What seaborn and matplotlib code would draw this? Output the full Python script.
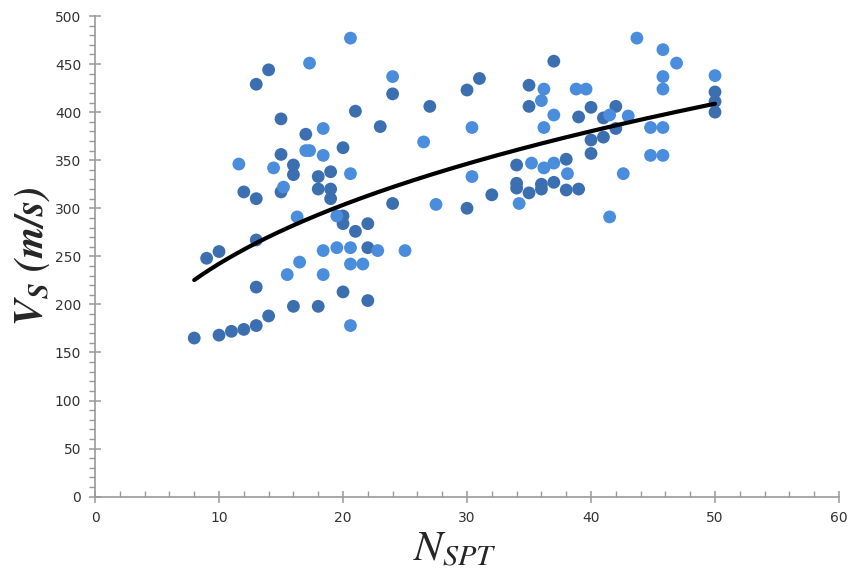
import numpy as np
import pandas as pd
import seaborn as sns
import matplotlib.pyplot as plt
from matplotlib.ticker import MultipleLocator

# SPT blow count vs shear wave velocity (two marker shades as in the source)
n_dark = [8, 9, 10, 10, 11, 12, 12, 13, 13, 13, 13, 13, 14, 14, 15, 15, 15,
          16, 16, 16, 17, 18, 18, 18, 19, 19, 19, 20, 20, 20, 20, 21, 21, 22,
          22, 22, 23, 24, 24, 27, 30, 30, 31, 32, 34, 34, 34, 35, 35, 35, 36,
          36, 37, 37, 38, 38, 39, 39, 40, 40, 40, 41, 41, 42, 42, 50, 50, 50]
vs_dark = [165, 248, 255, 168, 172, 174, 317, 178, 218, 267, 310, 429, 188,
           444, 393, 356, 317, 345, 335, 198, 377, 333, 320, 198, 338, 320,
           310, 363, 292, 284, 213, 401, 276, 284, 259, 204, 385, 419, 305,
           406, 423, 300, 435, 314, 345, 326, 321, 428, 406, 316, 325, 320,
           453, 327, 351, 319, 395, 320, 405, 371, 357, 394, 374, 406, 383,
           421, 411, 400]

n_light = [11.6, 14.4, 15.2, 15.5, 16.3, 16.5, 17.0, 17.3, 17.3, 18.4, 18.4,
           18.4, 18.4, 19.5, 19.5, 20.6, 20.6, 20.6, 20.6, 20.6, 21.6, 22.8,
           24.0, 25.0, 26.5, 27.5, 30.4, 30.4, 34.2, 35.2, 36.0, 36.2, 36.2,
           36.2, 37.0, 37.0, 38.1, 38.8, 39.6, 41.5, 41.5, 42.6, 43.0, 43.7,
           44.8, 44.8, 45.8, 45.8, 45.8, 45.8, 45.8, 46.9, 50.0]
vs_light = [346, 342, 322, 231, 291, 244, 360, 360, 451, 383, 355, 256, 231,
            292, 259, 477, 336, 259, 242, 178, 242, 256, 437, 256, 369, 304,
            384, 333, 305, 347, 412, 424, 384, 342, 397, 347, 336, 424, 424,
            397, 291, 336, 396, 477, 384, 355, 465, 437, 424, 384, 355, 451,
            438]

df = pd.DataFrame({
    "N": n_dark + n_light,
    "Vs": vs_dark + vs_light,
    "shade": ["dark"] * len(n_dark) + ["light"] * len(n_light),
})

# power trendline Vs = a * N^b fitted on the points (log-log least squares)
b, log_a = np.polyfit(np.log(df["N"]), np.log(df["Vs"]), 1)
n_fit = np.linspace(df["N"].min(), df["N"].max(), 200)
fit = pd.DataFrame({"N": n_fit, "Vs": np.exp(log_a) * n_fit ** b})

sns.set_style("white")
plt.rcParams["font.family"] = ["DejaVu Sans"]
plt.rcParams["mathtext.fontset"] = "stix"

fig = plt.figure(figsize=(8.6, 5.82), dpi=100)
ax = fig.add_axes([0.1105, 0.1466, 0.8651, 0.8259])

sns.scatterplot(data=df, x="N", y="Vs", hue="shade",
                palette={"dark": "#3c6fb0", "light": "#4a8ddc"},
                s=85, linewidth=0, legend=False, ax=ax, zorder=2)
sns.lineplot(data=fit, x="N", y="Vs", color="black", linewidth=3, ax=ax,
             zorder=3)

ax.set_xlim(0, 60)
ax.set_ylim(0, 500)
ax.xaxis.set_major_locator(MultipleLocator(10))
ax.xaxis.set_minor_locator(MultipleLocator(2))
ax.yaxis.set_major_locator(MultipleLocator(50))
ax.yaxis.set_minor_locator(MultipleLocator(10))

for side in ["top", "right"]:
    ax.spines[side].set_visible(False)
for side in ["left", "bottom"]:
    ax.spines[side].set_color("#9a9a9a")
    ax.spines[side].set_linewidth(1.2)

ax.tick_params(which="both", bottom=True, left=True)
ax.tick_params(which="major", direction="inout", length=8, width=1.1,
               color="#9a9a9a", labelsize=10, labelcolor="#333333", pad=6)
ax.tick_params(axis="x", which="minor", direction="in", length=4, width=1,
               color="#9a9a9a")
ax.tick_params(axis="y", which="minor", direction="out", length=4, width=1,
               color="#9a9a9a")

ax.set_xlabel(r"$N_{SPT}$", fontsize=31)
ax.set_ylabel(r"$\mathbfit{V_S\ (m/s)}$", fontsize=29)
ax.xaxis.set_label_coords(0.484, -0.065)
ax.yaxis.set_label_coords(-0.058, 0.5)

fig.savefig("out.png", dpi=100, facecolor="white")
